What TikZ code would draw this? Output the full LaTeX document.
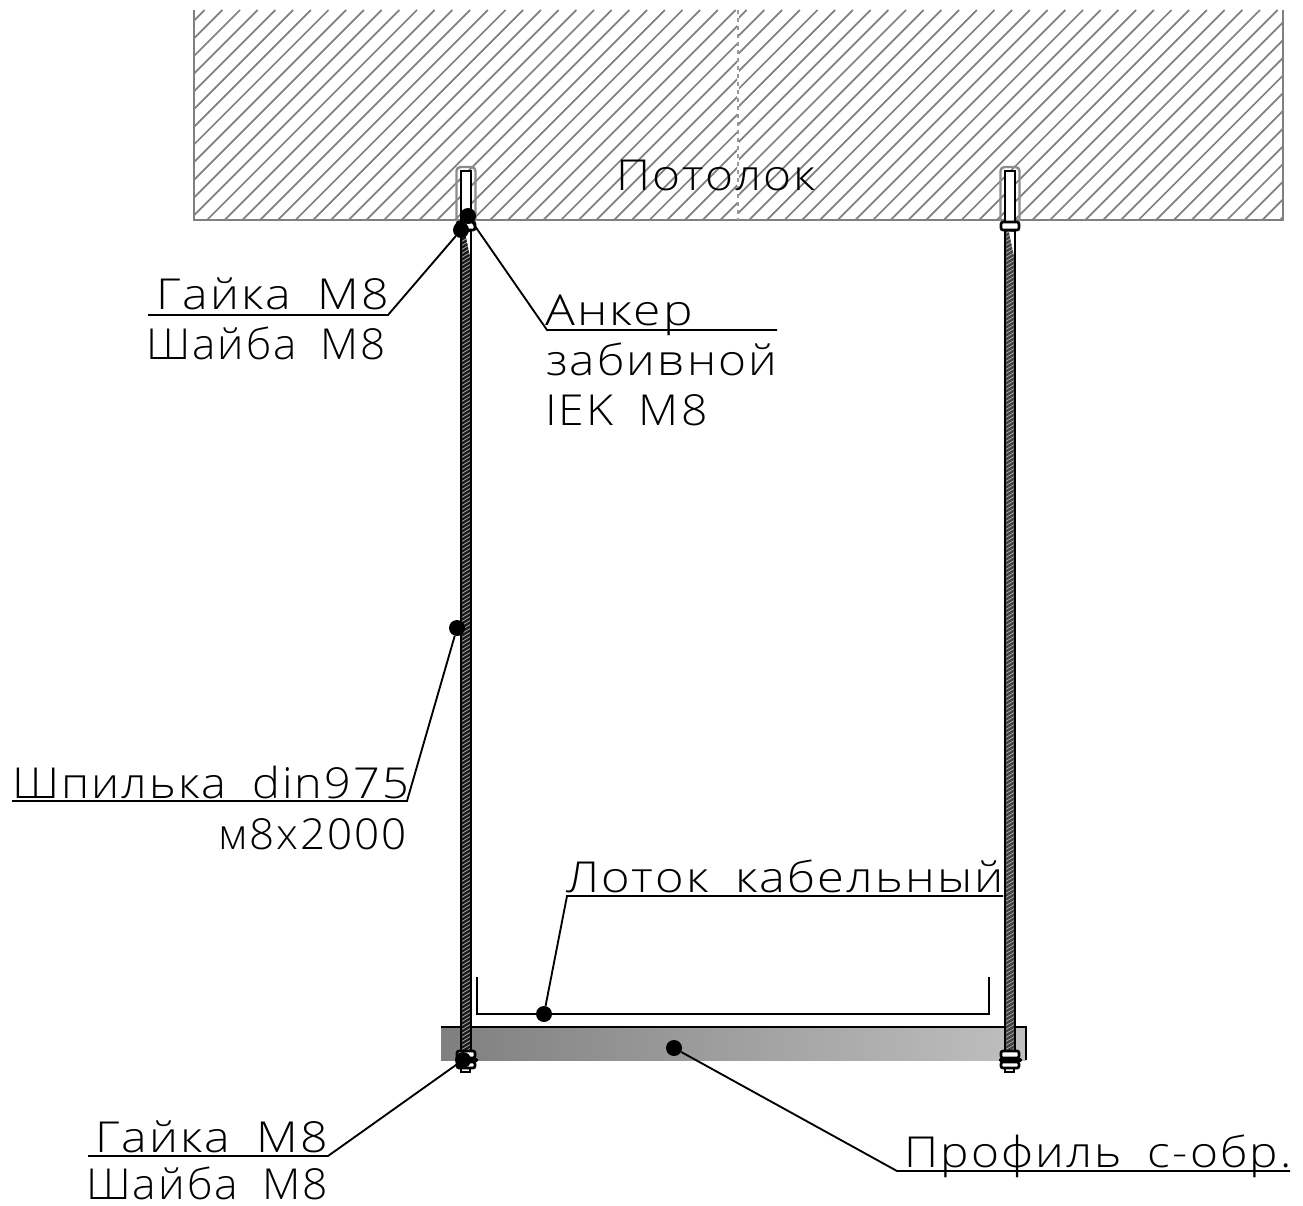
\documentclass[tikz,border=0pt]{standalone}
\usepackage{fontspec}
\setmainfont{Open Sans Light}[FakeStretch=1.12,LetterSpace=5,WordSpace=1.8]
\usepackage{tikz}
\pgfmathsetmacro{\hatchStep}{17.7}
\tikzset{
	hatchline/.style={black!50, line width=1.3pt},
	dot/.style={circle, fill=black, inner sep=0, minimum size=12pt},
	leader/.style={black, line width=1.4pt},
	lbl/.style={anchor=base west, inner sep=0, font=\fontsize{32}{32}\selectfont},
	fit x/.style={xscale=#1, transform shape},
	part/.style={draw=black, line width=1.5pt, fill=white},
	nut/.style={draw=black, line width=2pt, fill=white, rounded corners=1.5pt}
}
\newcommand{\rodAt}[2]{
	\fill[black!#2] (#1, 230) rectangle ++(10, 836);
	\begin{scope}
		\clip (#1, 230) rectangle ++(10, 836);
		\foreach \y in {230, 234, ..., 1066} \draw[gray!70, line width=.6pt] (#1, \y) -- ++(10, -6);
		\fill[white] ({#1+4}, 232) -- ({#1+10}, 232) -- ({#1+9}, 256) -- cycle;
	\end{scope}
	\draw[black, line width=1.4pt] (#1, 230) rectangle ++(10, 836);
}
\newcommand{\anchorAt}[1]{
	\draw[black!45, line width=1.8pt, rounded corners=3pt] ({#1-4.5}, 221) -- ({#1-4.5}, 167) -- ({#1+14.5}, 167) -- ({#1+14.5}, 221);
	\draw[part] (#1, 222) -- (#1, 171) -- ({#1+10}, 171) -- ({#1+10}, 222);
	\draw[nut] ({#1-4}, 222) rectangle ({#1+14}, 230);
}
\newcommand{\nutsAt}[1]{
	\draw[part] (#1, 1066) rectangle ({#1+9}, 1072);
	\draw[nut] ({#1-4}, 1062) rectangle ({#1+14}, 1068);
	\draw[nut] ({#1-4}, 1051) rectangle ({#1+14}, 1058);
	\fill[black, rounded corners=1pt] ({#1-6}, 1058) rectangle ({#1+17}, 1062);
}

\begin{document}
\begin{tikzpicture}[x=.75pt, y=-.75pt]
	\useasboundingbox (0, 0) rectangle (1303, 1206);
	% ceiling
	\begin{scope}
		\clip (194, 10) rectangle (737, 220);
		\foreach \k in {11, ..., 54} \draw[hatchline] ({2.2+\hatchStep*\k-10}, 10) -- ++(-210, 210);
	\end{scope}
	\begin{scope}
		\clip (739, 10) rectangle (1283, 220);
		\foreach \k in {41, ..., 84} \draw[hatchline] ({13.3+\hatchStep*\k-10}, 10) -- ++(-210, 210);
	\end{scope}
	\draw[black!50, line width=1.5pt] (194, 10) -- (194, 220) -- (1283, 220) -- (1283, 10);
	\draw[black!40, line width=1pt, dashed] (738, 10) -- (738, 220);
	\node[lbl] (ceilingText) at (616, 190) {Потолок};
	% profile and tray
	\shade[left color=black!50, right color=black!25] (441, 1027) rectangle (1026, 1060);
	\draw[black, line width=1.6pt] (441, 1027) -- (1026, 1027) -- (1026, 1060);
	\draw[black, line width=1.6pt] (477, 977) -- (477, 1014) -- (989, 1014) -- (989, 977);
	% rods
	\rodAt{461}{90}
	\rodAt{1005}{75}
	\anchorAt{461}
	\anchorAt{1005}
	\nutsAt{461}
	\nutsAt{1005}
	% leaders
	\node[dot] (dotAnchor) at (468, 216) {};
	\node[dot] (dotNutTop) at (461, 230) {};
	\node[dot] (dotStud) at (457, 628) {};
	\node[dot] (dotTray) at (544, 1014) {};
	\node[dot] (dotProfile) at (674, 1048) {};
	\node[dot] (dotNutLow) at (463, 1060) {};
	\coordinate (a1) at (388, 315);
	\coordinate (a2) at (148, 315);
	\coordinate (b1) at (547, 330);
	\coordinate (b2) at (777, 330);
	\coordinate (c1) at (407, 801);
	\coordinate (c2) at (12, 801);
	\coordinate (d1) at (567, 896);
	\coordinate (d2) at (1003, 896);
	\coordinate (e1) at (328, 1156);
	\coordinate (e2) at (88, 1156);
	\coordinate (f1) at (897, 1171);
	\coordinate (f2) at (1290, 1171);
	\draw[leader] (dotNutTop) -- (a1) -- (a2);
	\draw[leader] (dotAnchor) -- (b1) -- (b2);
	\draw[leader] (dotStud) -- (c1) -- (c2);
	\draw[leader] (dotTray) -- (d1) -- (d2);
	\draw[leader] (dotNutLow) -- (e1) -- (e2);
	\draw[leader] (dotProfile) -- (f1) -- (f2);
	% labels
	\node[lbl, fit x=1.01] (nutTop) at (156, 309) {Гайка M8};
	\node[lbl, fit x=.92] (washerTop) at (146, 359) {Шайба M8};
	\node[lbl, fit x=1.04] (anchorA) at (545, 325) {Анкер};
	\node[lbl] (anchorB) at (546, 375) {забивной};
	\node[lbl, fit x=.97] (anchorC) at (545, 425) {IEK M8};
	\node[lbl, fit x=.98] (studA) at (12, 798) {Шпилька din975};
	\node[lbl, fit x=.92] (studB) at (218, 849) {м8х2000};
	\node[lbl, fit x=1.02] (trayText) at (566, 892) {Лоток кабельный};
	\node[lbl, fit x=1.01] (nutLow) at (95, 1152) {Гайка M8};
	\node[lbl, fit x=.93] (washerLow) at (86, 1199) {Шайба M8};
	\node[lbl] (profileText) at (904, 1167) {Профиль с-обр.};
\end{tikzpicture}
\end{document}
